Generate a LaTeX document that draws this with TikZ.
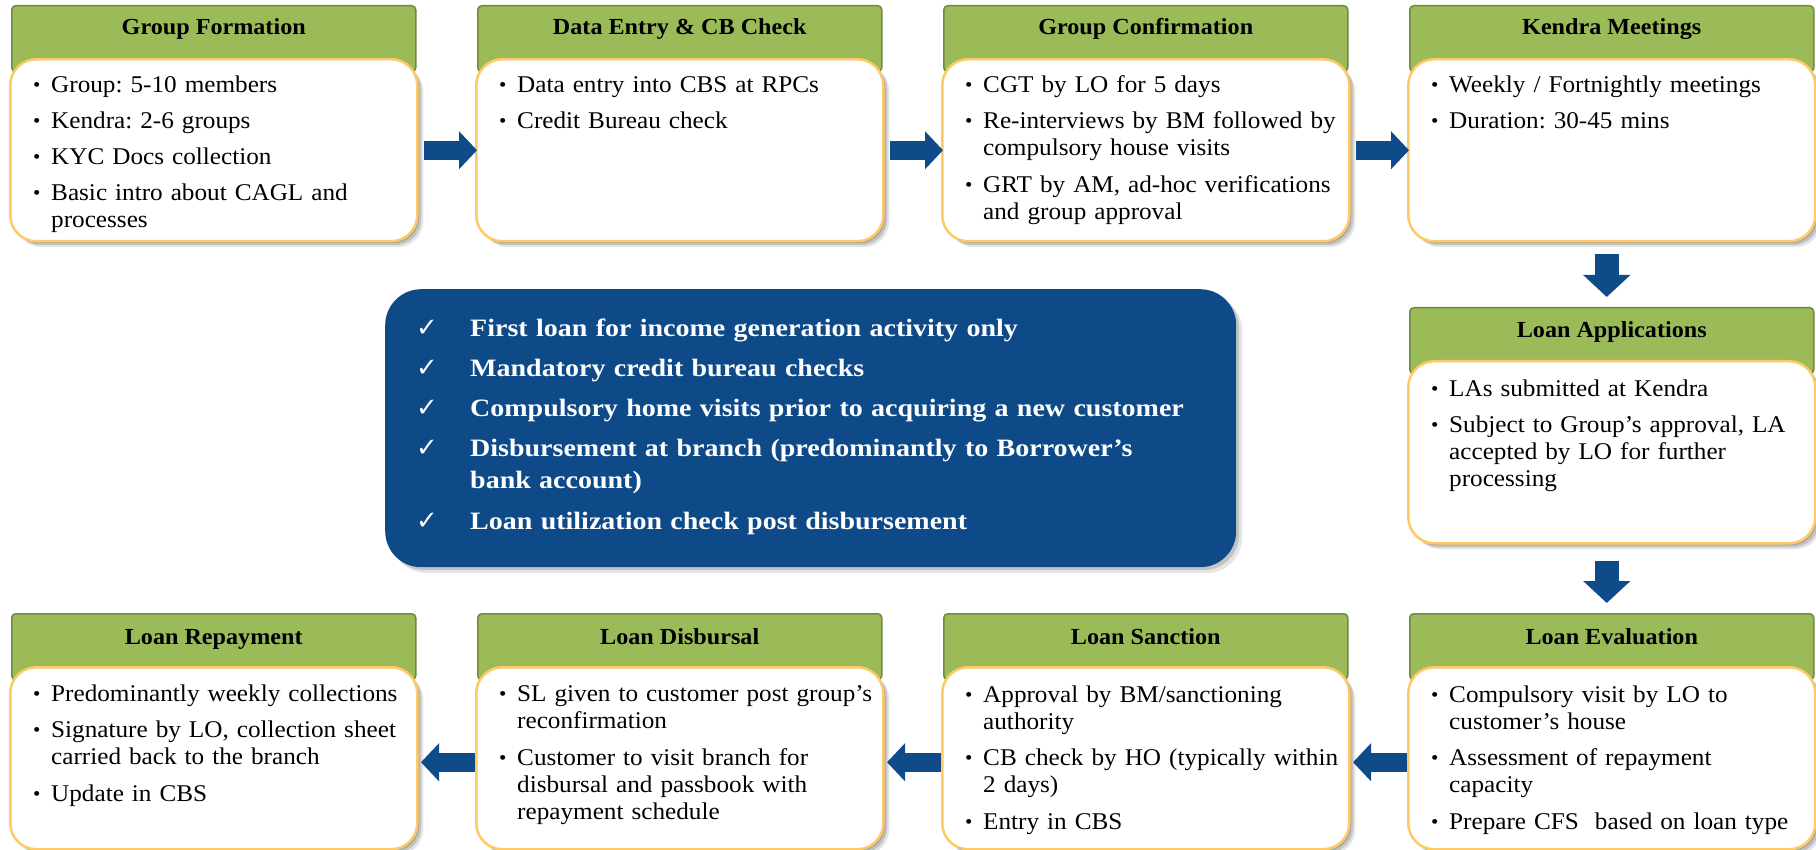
\documentclass[tikz,border=0pt]{standalone}
\usepackage{fontspec}
\setmainfont{Liberation Serif}[FakeStretch=1.05]
\newfontfamily\bluefont{Liberation Serif}[FakeStretch=1.12]
\newfontfamily\symfont{DejaVu Sans}
\usetikzlibrary{arrows.meta,calc,shadows}
\definecolor{hdrfill}{HTML}{9BBB59}
\definecolor{hdrline}{HTML}{71893F}
\definecolor{cardline}{HTML}{FFC966}
\definecolor{navy}{HTML}{0D4A87}
\definecolor{arrowblue}{HTML}{0F4B88}
\newcommand{\bul}{\makebox[18pt][l]{\raisebox{1pt}{\fontsize{20}{20}\selectfont •}}}
\newcommand{\bitem}[1]{\par\lineskip=0pt\relax\noindent\strut\bul\parbox[t]{372pt}{\raggedright\strut #1\strut}}
\newcommand{\isep}{\par\vspace{9pt}}
\newcommand{\chk}{\makebox[54pt][l]{\fontsize{26}{26}\symfont\mdseries ✓}}
\newcommand{\citem}[1]{\par\lineskip=0pt\relax\noindent\strut\chk\parbox[t]{740pt}{\raggedright\strut #1\strut}}
\newcommand{\csep}{\par\vspace{7.5pt}}
\tikzset{
  hdr/.style={draw=hdrline, fill=hdrfill, line width=1.5pt, rounded corners=4pt,
    minimum width=404pt, minimum height=66pt, anchor=north west, inner sep=0pt},
  title/.style={font=\fontsize{23}{23}\selectfont\bfseries, anchor=base, inner sep=0pt},
  card/.style={draw=cardline, fill=white, line width=2.5pt, rounded corners=26pt,
    minimum width=407pt, minimum height=182pt, anchor=north west, inner sep=0pt,
    drop shadow={shadow xshift=6pt, shadow yshift=-6pt, opacity=0.10, fill=black},
    drop shadow={shadow xshift=4pt, shadow yshift=-4pt, opacity=0.15, fill=black},
    drop shadow={shadow xshift=2pt, shadow yshift=-2pt, opacity=0.15, fill=black}},
  body/.style={anchor=north west, inner sep=0pt, text width=395pt,
    font=\fontsize{24}{27}\selectfont\frenchspacing},
  bluebox/.style={fill=navy, rounded corners=36pt, minimum width=851pt,
    minimum height=278pt, anchor=north west, inner sep=0pt,
    drop shadow={shadow xshift=6pt, shadow yshift=-6pt, opacity=0.10, fill=black},
    drop shadow={shadow xshift=3pt, shadow yshift=-3pt, opacity=0.15, fill=black}},
  bluetext/.style={anchor=north west, inner sep=0pt, text width=800pt,
    text=white, font=\bluefont\fontsize{25}{32.5}\selectfont\bfseries\frenchspacing},
  harrow/.style={line width=19pt, draw=arrowblue, -{Triangle[width=37pt,length=18pt]}},
  varrow/.style={line width=24pt, draw=arrowblue, -{Triangle[width=46pt,length=22pt]}}
}
\begin{document}
\begin{tikzpicture}[x=1pt,y=-1pt]
\useasboundingbox (0,0) rectangle (1816,850);
% ---- headers
\node[hdr] (h1) at (11,5) {};
\node[hdr] (h2) at (477,5) {};
\node[hdr] (h3) at (943,5) {};
\node[hdr] (h4) at (1409,5) {};
\node[hdr] (h5) at (1409,307) {};
\node[hdr] (h6) at (1409,613) {};
\node[hdr] (h7) at (943,613) {};
\node[hdr] (h8) at (477,613) {};
\node[hdr] (h9) at (11,613) {};
% ---- titles
\node[title] (g1) at ($(h1.north)+(0,30)$) {Group Formation};
\node[title] (g2) at ($(h2.north)+(0,30)$) {Data Entry \& CB Check};
\node[title] (g3) at ($(h3.north)+(0,30)$) {Group Confirmation};
\node[title] (g4) at ($(h4.north)+(0,30)$) {Kendra Meetings};
\node[title] (g5) at ($(h5.north)+(0,31)$) {Loan Applications};
\node[title] (g6) at ($(h6.north)+(0,31)$) {Loan Evaluation};
\node[title] (g7) at ($(h7.north)+(0,31)$) {Loan Sanction};
\node[title] (g8) at ($(h8.north)+(0,31)$) {Loan Disbursal};
\node[title] (g9) at ($(h9.north)+(0,31)$) {Loan Repayment};
% ---- cards
\node[card] (c1) at (9,58) {};
\node[card] (c2) at (475,58) {};
\node[card] (c3) at (941,58) {};
\node[card] (c4) at (1407,58) {};
\node[card] (c5) at (1407,360) {};
\node[card] (c6) at (1407,666) {};
\node[card] (c7) at (941,666) {};
\node[card] (c8) at (475,666) {};
\node[card] (c9) at (9,666) {};
% ---- card texts
\node[body] (t1) at ($(c1.north west)+(24,7.5)$) {\bitem{Group: 5-10 members}\isep\bitem{Kendra: 2-6 groups}\isep\bitem{KYC Docs collection}\isep\bitem{Basic intro about CAGL and\\processes}};
\node[body] (t2) at ($(c2.north west)+(24,7.5)$) {\bitem{Data entry into CBS at RPCs}\isep\bitem{Credit Bureau check}};
\node[body] (t3) at ($(c3.north west)+(24,7.5)$) {\bitem{CGT by LO for 5 days}\isep\bitem{Re-interviews by BM followed by\\compulsory house visits}\isep\bitem{GRT by AM, ad-hoc verifications\\and group approval}};
\node[body] (t4) at ($(c4.north west)+(24,7.5)$) {\bitem{Weekly / Fortnightly meetings}\isep\bitem{Duration: 30-45 mins}};
\node[body] (t5) at ($(c5.north west)+(24,9)$) {\bitem{LAs submitted at Kendra}\isep\bitem{Subject to Group’s approval, LA\\accepted by LO for further\\processing}};
\node[body] (t6) at ($(c6.north west)+(24,9)$) {\bitem{Compulsory visit by LO to\\customer’s house}\isep\bitem{Assessment of repayment\\capacity}\isep\bitem{Prepare CFS\ \ based on loan type}};
\node[body] (t7) at ($(c7.north west)+(24,9)$) {\bitem{Approval by BM/sanctioning\\authority}\isep\bitem{CB check by HO (typically within\\2 days)}\isep\bitem{Entry in CBS}};
\node[body] (t8) at ($(c8.north west)+(24,8)$) {\bitem{SL given to customer post group’s\\reconfirmation}\isep\bitem{Customer to visit branch for\\disbursal and passbook with\\repayment schedule}};
\node[body] (t9) at ($(c9.north west)+(24,8)$) {\bitem{Predominantly weekly collections}\isep\bitem{Signature by LO, collection sheet\\carried back to the branch}\isep\bitem{Update in CBS}};
% ---- central blue box
\node[bluebox] (b) at (385,289) {};
\node[bluetext] (bt) at ($(b.north west)+(31,14.5)$) {\citem{First loan for income generation activity only}\csep\citem{Mandatory credit bureau checks}\csep\citem{Compulsory home visits prior to acquiring a new customer}\csep\citem{Disbursement at branch (predominantly to Borrower’s\\bank account)}\csep\citem{Loan utilization check post disbursement}};
% ---- arrows
\draw[harrow, shorten <=5pt, shorten >=-2pt] (c1.east) -- (c2.west);
\draw[harrow, shorten <=5pt, shorten >=-2pt] (c2.east) -- (c3.west);
\draw[harrow, shorten <=5pt, shorten >=-2pt] (c3.east) -- (c4.west);
\draw[varrow, shorten <=12pt, shorten >=10pt] ($(c4.south)+(-5,0)$) -- ($(h5.north)+(-5,0)$);
\draw[varrow, shorten <=16pt, shorten >=10pt] ($(c5.south)+(-5,0)$) -- ($(h6.north)+(-5,0)$);
\draw[harrow, shorten >=2.5pt] ($(c6.west)+(0,4)$) -- ($(c7.east)+(0,4)$);
\draw[harrow, shorten >=2.5pt] ($(c7.west)+(0,4)$) -- ($(c8.east)+(0,4)$);
\draw[harrow, shorten >=2.5pt] ($(c8.west)+(0,4)$) -- ($(c9.east)+(0,4)$);
\end{tikzpicture}
\end{document}
